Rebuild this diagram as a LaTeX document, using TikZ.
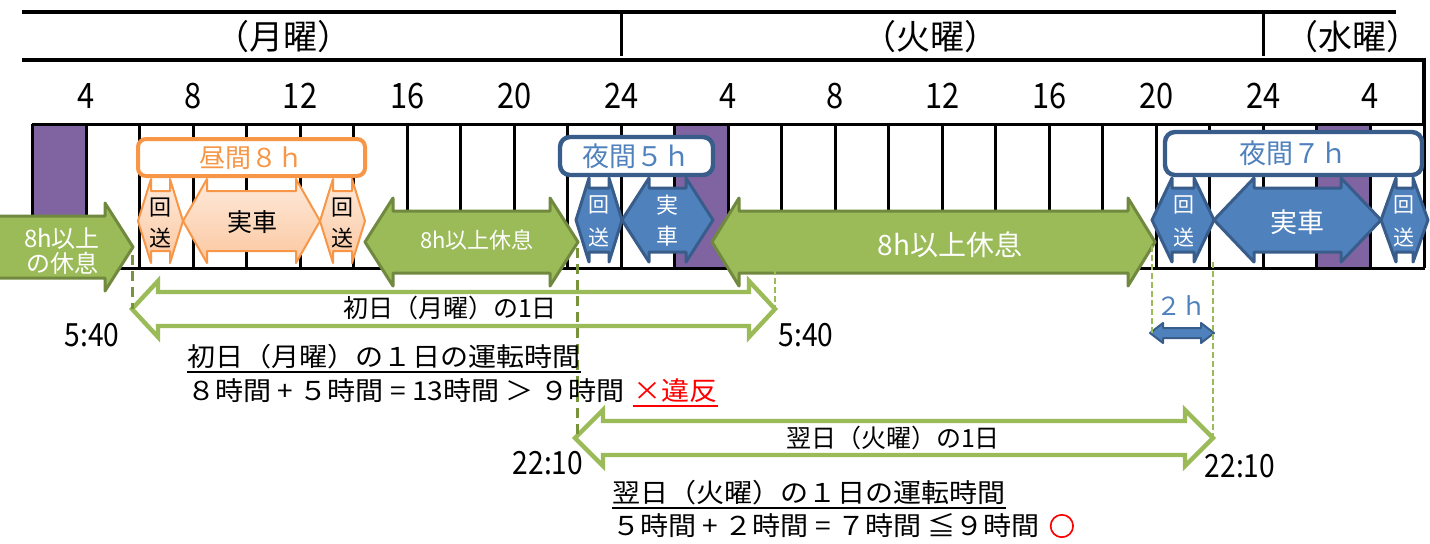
\documentclass[tikz,border=0pt]{standalone}
\usepackage{fontspec}
\setmainfont{Noto Sans CJK JP}
\newfontfamily\jpn{Noto Sans CJK JP}[FakeStretch=0.88]
\newfontfamily\jpw{Noto Sans CJK JP}[FakeStretch=1.08]
\newfontfamily\jpb{Noto Sans CJK JP}[FakeBold=2.5]
\definecolor{grn}{HTML}{9BBB59}
\definecolor{grnd}{HTML}{71893F}
\definecolor{grnk}{HTML}{77933C}
\definecolor{pur}{HTML}{8064A2}
\definecolor{blu}{HTML}{4F81BD}
\definecolor{blud}{HTML}{385D8A}
\definecolor{org}{HTML}{F79646}
\definecolor{orgl}{HTML}{FEEADB}
\definecolor{orgm}{HTML}{FBC7A0}
\definecolor{redx}{HTML}{FF0000}
\newcommand\cj[1]{\raisebox{0pt}[0.88em][0.12em]{#1}}
\newcommand\fs[1]{\fontsize{#1}{#1}\selectfont}
% double arrow: style, x1, x2, yc, head depth, head half-height, body half-height
\newcommand\dblarr[7]{%
  \path[#1] (#2,#4) -- (#2+#5,#4-#6) -- (#2+#5,#4-#7) -- (#3-#5,#4-#7) -- (#3-#5,#4-#6) -- (#3,#4)
    -- (#3-#5,#4+#6) -- (#3-#5,#4+#7) -- (#2+#5,#4+#7) -- (#2+#5,#4+#6) -- cycle;}
\begin{document}
\begin{tikzpicture}[x=0.5pt,y=-0.5pt,
  txt/.style={inner sep=0pt},
  gridln/.style={line width=1.5pt,black},
  grnshape/.style={fill=grn,draw=grnd,line width=1.5pt,line join=round},
  orgshape/.style={top color=orgl,bottom color=orgm,draw=org,line width=1pt,line join=round},
  blushape/.style={fill=blu,draw=blud,line width=1.5pt,line join=round},
  hollow/.style={fill=white,draw=grn,line width=2.2pt,line join=miter},
  lboxo/.style={draw=org,line width=2pt,fill=white,rounded corners=4pt,text=org,font=\fs{13pt},inner sep=0pt},
  lboxb/.style={draw=blud,line width=2.2pt,fill=white,rounded corners=5pt,text=blu,font=\fs{13.5pt},inner sep=0pt},
  dkdash/.style={draw=grnk,line width=1.5pt,dash pattern=on 5pt off 3pt},
  ltdash/.style={draw=grn,line width=0.7pt,dash pattern=on 3pt off 1.5pt},
  wtxt/.style={txt,text=white},
  vtxt/.style={txt,font=\fs{11pt}},
  expl/.style={txt,anchor=west,font=\jpw\fs{13pt}}]
\useasboundingbox (0,0) rectangle (1430,543);
\fill[white] (0,0) rectangle (1430,543);
% header
\draw[line width=2pt] (22,12) -- (1396,12);
\draw[gridln] (621,12) -- (621,56);
\draw[gridln] (1263,12) -- (1263,56);
\draw[line width=2pt] (22,60) -- (1424,60) -- (1424,124);
\node[txt,font=\fs{17pt}] (d1) at (283,37) {\cj{（月曜）}};
\node[txt,font=\fs{17pt}] (d2) at (930,37) {\cj{（火曜）}};
\node[txt,font=\fs{17pt}] (d3) at (1352,37) {\cj{（水曜）}};
\foreach \h/\l [count=\i] in {4/4,8/8,12/12,16/16,20/20,24/24,28/4,32/8,36/12,40/16,44/20,48/24,52/4}{
  \pgfmathsetmacro\xx{86+(\h-4)*26.76}
  \node[txt,font=\jpn\fs{17.5pt}] (hl\i) at (\xx,95) {\cj{\l}};}
% grid
\fill[pur] (32.48,124) rectangle (86,268);
\fill[pur] (674.72,124) rectangle (728.24,268);
\fill[pur] (1316.96,124) rectangle (1370.48,268);
\foreach \h in {2,4,...,54}{
  \pgfmathsetmacro\xx{86+(\h-4)*26.76}
  \draw[gridln] (\xx,124) -- (\xx,268);}
\draw[gridln] (31.7,124) -- (1424.8,124);
\draw[gridln] (31.7,268) -- (1424.8,268);
% green rest arrows
\path[grnshape] (-2,216) -- (105,216) -- (105,203) -- (133,247) -- (105,291) -- (105,278) -- (-2,278) -- cycle;
\dblarr{grnshape}{365}{578}{242}{28}{44}{31}
\dblarr{grnshape}{712}{1155}{242}{27}{44}{31}
% orange (day) shapes
\dblarr{orgshape}{138}{183}{221}{13}{42}{30}
\dblarr{orgshape}{183}{320}{221}{24}{42}{30}
\dblarr{orgshape}{320}{365}{221}{13}{42}{30}
% blue (night) shapes
\dblarr{blushape}{576}{622}{220}{13}{42}{32}
\dblarr{blushape}{622}{713}{220}{27}{42}{32}
\dblarr{blushape}{1152}{1214}{220}{20}{42}{32}
\dblarr{blushape}{1214}{1381}{220}{40}{42}{32}
\dblarr{blushape}{1381}{1428}{220}{15}{42}{32}
% label boxes
\node[lboxo,minimum width=113.5pt,minimum height=18.5pt] (b1) at (251.5,157.5) {\cj{昼間８ｈ}};
\node[lboxb,minimum width=76.5pt,minimum height=19pt] (b2) at (636.5,156) {\cj{夜間５ｈ}};
\node[lboxb,minimum width=128.5pt,minimum height=21.5pt] (b3) at (1293.5,153.5) {\cj{夜間７ｈ}};
% texts in shapes
\node[wtxt,font=\fs{12pt}] (g1a) at (62,238) {\cj{8h以上}};
\node[wtxt,font=\fs{12pt}] (g1b) at (62,263) {\cj{の休息}};
\node[wtxt,font=\fs{11pt}] (g2) at (477,240) {\cj{8h以上休息}};
\node[wtxt,font=\fs{14pt}] (g3) at (950,245) {\cj{8h以上休息}};
\node[vtxt] (o1a) at (160,207) {\cj{回}};
\node[vtxt] (o1b) at (160,238) {\cj{送}};
\node[txt,font=\fs{12.5pt}] (o2) at (252,222) {\cj{実車}};
\node[vtxt] (o3a) at (342,207) {\cj{回}};
\node[vtxt] (o3b) at (342,238) {\cj{送}};
\node[vtxt,text=white,font=\fs{10.5pt}] (n1a) at (599,205) {\cj{回}};
\node[vtxt,text=white,font=\fs{10.5pt}] (n1b) at (599,238) {\cj{送}};
\node[vtxt,text=white] (n2a) at (667,205) {\cj{実}};
\node[vtxt,text=white] (n2b) at (667,236) {\cj{車}};
\node[vtxt,text=white,font=\fs{10.5pt}] (n3a) at (1184,205) {\cj{回}};
\node[vtxt,text=white,font=\fs{10.5pt}] (n3b) at (1184,238) {\cj{送}};
\node[txt,text=white,font=\fs{13.5pt}] (n4) at (1297,222) {\cj{実車}};
\node[vtxt,text=white,font=\fs{10.5pt}] (n5a) at (1404,205) {\cj{回}};
\node[vtxt,text=white,font=\fs{10.5pt}] (n5b) at (1404,238) {\cj{送}};
% one-day arrows
\dblarr{hollow}{132}{775}{309}{26}{28}{17}
\dblarr{hollow}{575}{1213}{438}{28}{28}{17}
\node[txt,font=\fs{12.5pt}] (a1) at (450,308) {\cj{初日（月曜）の1日}};
\node[txt,font=\fs{12.5pt}] (a2) at (893,438) {\cj{翌日（火曜）の1日}};
% 2h arrow
\dblarr{blushape,line width=1pt}{1150}{1214}{333}{13}{10}{5}
\node[txt,text=blu,font=\fs{12.5pt}] (h2) at (1181,306) {\cj{２ｈ}};
% dashed guide lines
\coordinate (p1a) at (132,255); \coordinate (p1b) at (132,309);
\coordinate (p2a) at (577,248); \coordinate (p2b) at (577,438);
\coordinate (p3a) at (775,269); \coordinate (p3b) at (775,309);
\coordinate (p4a) at (1152,246); \coordinate (p4b) at (1152,333);
\coordinate (p5a) at (1213,262); \coordinate (p5b) at (1213,438);
\draw[dkdash] (p1a) -- (p1b);
\draw[dkdash] (p2a) -- (p2b);
\draw[ltdash] (p3a) -- (p3b);
\draw[ltdash] (p4a) -- (p4b);
\draw[ltdash] (p5a) -- (p5b);
% time labels
\node[txt,font=\jpn\fs{16pt}] (t540a) at (92,334) {\cj{5:40}};
\node[txt,font=\jpn\fs{16pt}] (t540b) at (806,334) {\cj{5:40}};
\node[txt,font=\jpn\fs{16pt}] (t2210a) at (548,462) {\cj{22:10}};
\node[txt,font=\jpn\fs{16pt}] (t2210b) at (1240,465) {\cj{22:10}};
% explanation texts
\node[expl] (x1) at (187,357) {\cj{初日（月曜）の１日の運転時間}};
\draw[line width=1pt] ([yshift=-1pt]x1.south west) -- ([yshift=-1pt]x1.south east);
\node[expl] (x2) at (187,391) {\cj{８時間 + ５時間 = 13時間 ＞ ９時間}};
\node[expl,text=redx] (x2r) at ([xshift=4pt]x2.east) {\cj{×違反}};
\draw[line width=1pt,redx] ([yshift=-1pt]x2r.south west) -- ([yshift=-1pt]x2r.south east);
\node[expl] (x3) at (612,493) {\cj{翌日（火曜）の１日の運転時間}};
\draw[line width=1pt] ([yshift=-1pt]x3.south west) -- ([yshift=-1pt]x3.south east);
\node[expl] (x4) at (612,526) {\cj{５時間 + ２時間 = ７時間 ≦９時間}};
\node[expl,font=\jpb\fs{13pt},text=redx] (x4r) at ([xshift=4pt]x4.east) {\cj{○}};
\end{tikzpicture}
\end{document}
